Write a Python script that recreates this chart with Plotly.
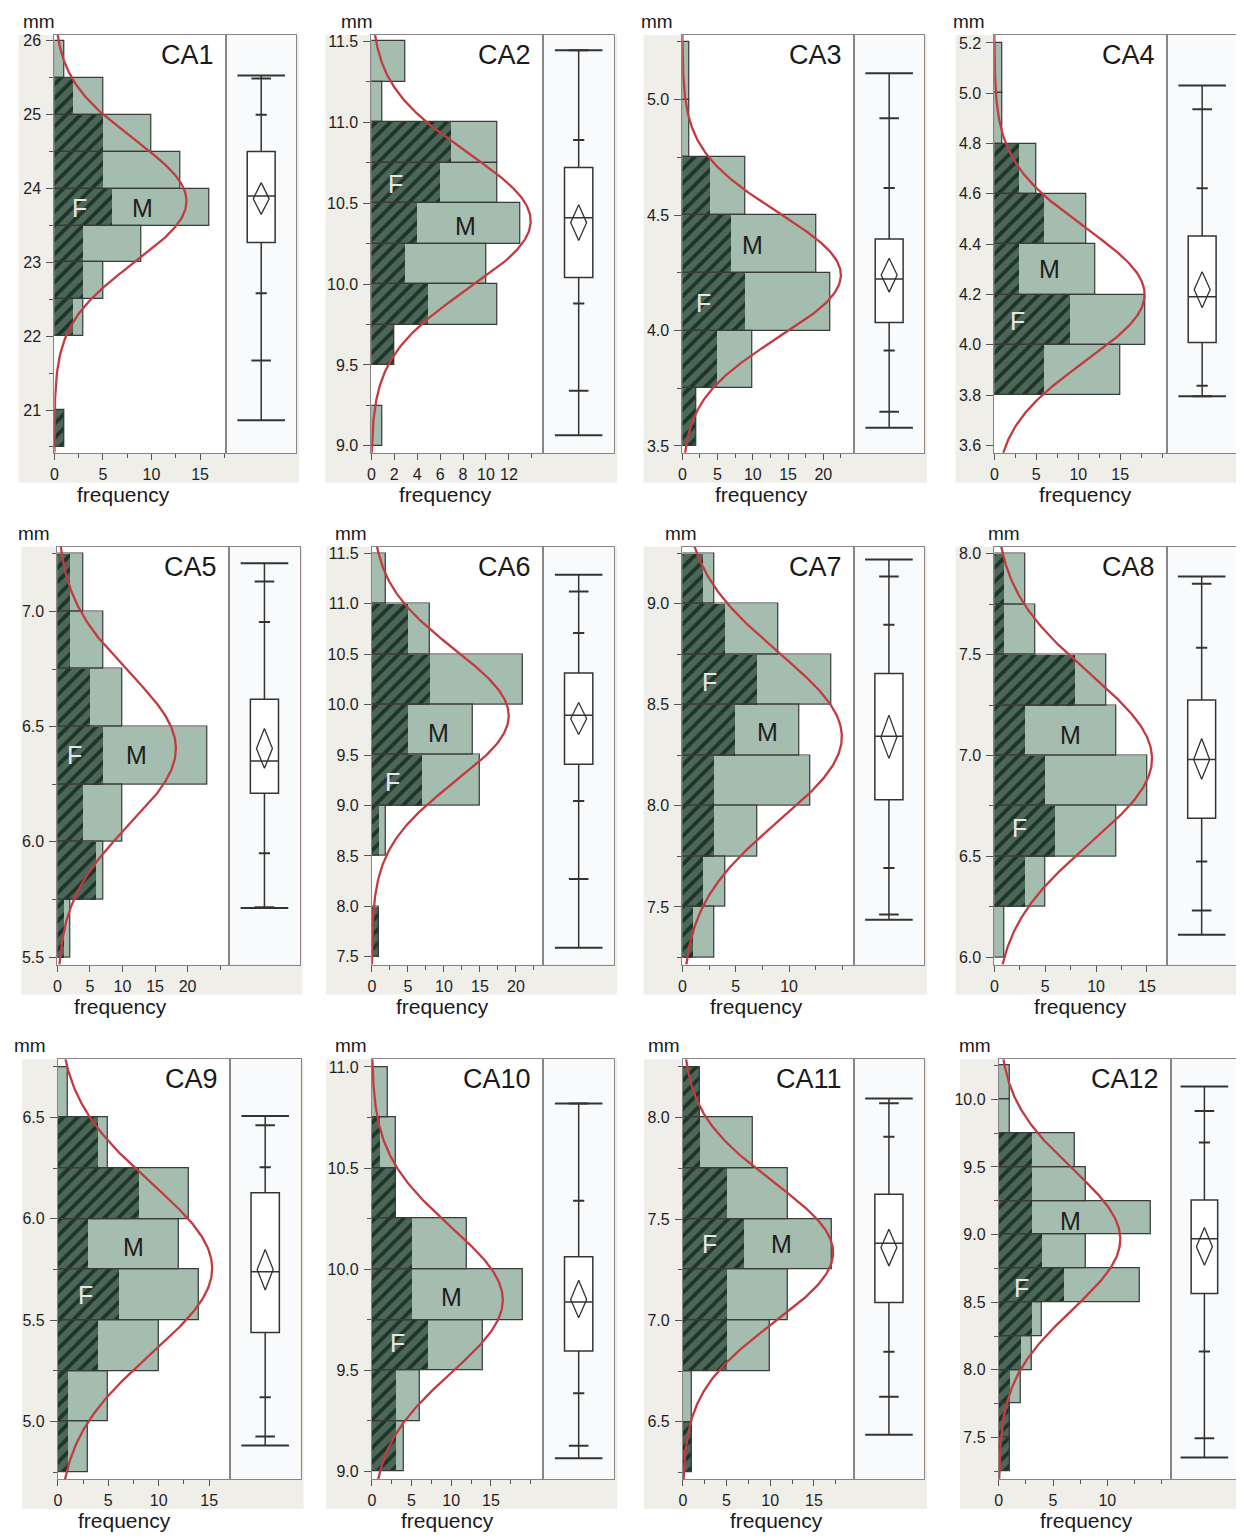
import numpy as np
import plotly.graph_objects as go

W, H = 1244, 1538

# ---------------- DATA ----------------
names = ["CA1", "CA2", "CA3", "CA4", "CA5", "CA6",
         "CA7", "CA8", "CA9", "CA10", "CA11", "CA12"]

bin_width = [0.5, 0.25, 0.25, 0.2, 0.25, 0.5, 0.25, 0.25, 0.25, 0.25, 0.25, 0.25]

bin_lower = [
    [20.5, 22.0, 22.5, 23.0, 23.5, 24.0, 24.5, 25.0, 25.5],
    [9.0, 9.5, 9.75, 10.0, 10.25, 10.5, 10.75, 11.0, 11.25],
    [3.5, 3.75, 4.0, 4.25, 4.5, 4.75, 5.0],
    [3.8, 4.0, 4.2, 4.4, 4.6, 4.8, 5.0],
    [5.5, 5.75, 6.0, 6.25, 6.5, 6.75, 7.0],
    [7.5, 8.5, 9.0, 9.5, 10.0, 10.5, 11.0],
    [7.25, 7.5, 7.75, 8.0, 8.25, 8.5, 8.75, 9.0],
    [6.0, 6.25, 6.5, 6.75, 7.0, 7.25, 7.5, 7.75],
    [4.75, 5.0, 5.25, 5.5, 5.75, 6.0, 6.25, 6.5],
    [9.0, 9.25, 9.5, 9.75, 10.0, 10.25, 10.5, 10.75],
    [6.25, 6.5, 6.75, 7.0, 7.25, 7.5, 7.75, 8.0],
    [7.25, 7.5, 7.75, 8.0, 8.25, 8.5, 8.75, 9.0, 9.25, 9.5, 9.75, 10.0],
]

count_total = [
    [1, 3, 5, 9, 16, 13, 10, 5, 1],
    [1, 2, 11, 10, 13, 11, 11, 1, 3],
    [2, 10, 21, 19, 9, 1, 1],
    [15, 18, 12, 11, 5, 1, 1],
    [2, 7, 10, 23, 10, 7, 4],
    [1, 2, 15, 14, 21, 8, 2],
    [3, 4, 7, 12, 11, 14, 9, 3],
    [1, 5, 12, 15, 12, 11, 4, 3],
    [3, 5, 10, 14, 12, 13, 5, 1],
    [4, 6, 14, 19, 12, 3, 3, 2],
    [1, 1, 10, 12, 17, 12, 8, 2],
    [1, 1, 2, 3, 4, 13, 8, 14, 8, 7, 1, 1],
]

count_female = [
    [1, 2, 3, 3, 6, 5, 5, 2, 0],
    [0, 2, 5, 3, 4, 6, 7, 0, 0],
    [2, 5, 9, 7, 4, 0, 0],
    [6, 9, 3, 6, 3, 0, 0],
    [1, 6, 4, 7, 5, 2, 2],
    [1, 1, 7, 5, 8, 5, 0],
    [1, 2, 3, 3, 5, 7, 4, 2],
    [0, 3, 6, 5, 3, 8, 1, 1],
    [1, 1, 4, 6, 3, 8, 4, 0],
    [3, 3, 7, 5, 5, 3, 1, 0],
    [1, 0, 5, 5, 7, 5, 2, 2],
    [1, 1, 1, 2, 3, 6, 4, 3, 3, 3, 0, 0],
]

# fitted normal curve (mean, sd, peak frequency)
curve_mean = [23.83, 10.39, 4.24, 4.20, 6.405, 9.89, 8.342, 6.985, 5.756, 9.848, 7.335, 8.966]
curve_sd = [0.83, 0.42, 0.27, 0.265, 0.33, 0.655, 0.415, 0.42, 0.42, 0.36, 0.345, 0.52]
curve_peak = [13.6, 13.9, 22.5, 17.9, 18.2, 19.0, 14.95, 15.5, 15.3, 16.5, 17.2, 11.2]

# quantile box plot statistics
box_min = [20.86, 9.066, 3.579, 3.795, 5.713, 7.589, 7.437, 6.112, 4.882, 9.066, 6.436, 7.352]
box_q025 = [21.67, 9.34, 3.648, 3.795, 5.716, 8.271, 7.462, 6.232, 4.926, 9.127, 6.623, 7.495]
box_q10 = [22.58, 9.88, 3.913, 3.837, 5.951, 9.045, 7.692, 6.475, 5.12, 9.387, 6.845, 8.135]
box_q1 = [23.27, 10.04, 4.035, 4.009, 6.211, 9.408, 8.03, 6.689, 5.439, 9.596, 7.088, 8.564]
box_median = [23.90, 10.41, 4.223, 4.191, 6.351, 9.895, 8.345, 6.981, 5.739, 9.838, 7.381, 8.97]
box_q3 = [24.50, 10.72, 4.396, 4.432, 6.619, 10.314, 8.655, 7.275, 6.129, 10.062, 7.622, 9.256]
box_q90 = [25.00, 10.89, 4.617, 4.622, 6.954, 10.71, 8.896, 7.535, 6.254, 10.338, 7.906, 9.68]
box_q975 = [25.49, 11.445, 4.919, 4.936, 7.13, 11.121, 9.135, 7.852, 6.462, 10.819, 8.071, 9.914]
box_max = [25.53, 11.445, 5.114, 5.031, 7.209, 11.286, 9.219, 7.888, 6.507, 10.819, 8.094, 10.094]
mean_val = [23.86, 10.38, 4.24, 4.22, 6.405, 9.86, 8.34, 6.98, 5.75, 9.85, 7.36, 8.91]
mean_lo = [23.65, 10.27, 4.166, 4.147, 6.319, 9.704, 8.235, 6.882, 5.649, 9.76, 7.269, 8.773]
mean_hi = [24.08, 10.49, 4.313, 4.29, 6.492, 10.02, 8.449, 7.085, 5.849, 9.946, 7.45, 9.052]

# axes
y_range = [[20.42, 26.08], [8.957, 11.54], [3.47, 5.28], [3.57, 5.232],
           [5.468, 7.281], [7.424, 11.566], [7.215, 9.283], [5.964, 8.036],
           [4.716, 6.787], [8.962, 11.038], [6.217, 8.288], [7.192, 10.296]]
x_max = [17.7, 15.0, 24.4, 20.6, 26.4, 23.8, 16.07, 16.95, 17.05, 21.6, 19.56, 15.9]

ytick_labels = [
    ["21", "22", "23", "24", "25", "26"],
    ["9.0", "9.5", "10.0", "10.5", "11.0", "11.5"],
    ["3.5", "4.0", "4.5", "5.0"],
    ["3.6", "3.8", "4.0", "4.2", "4.4", "4.6", "4.8", "5.0", "5.2"],
    ["5.5", "6.0", "6.5", "7.0"],
    ["7.5", "8.0", "8.5", "9.0", "9.5", "10.0", "10.5", "11.0", "11.5"],
    ["7.5", "8.0", "8.5", "9.0"],
    ["6.0", "6.5", "7.0", "7.5", "8.0"],
    ["5.0", "5.5", "6.0", "6.5"],
    ["9.0", "9.5", "10.0", "10.5", "11.0"],
    ["6.5", "7.0", "7.5", "8.0"],
    ["7.5", "8.0", "8.5", "9.0", "9.5", "10.0"],
]
xtick_labels = [
    ["0", "5", "10", "15"],
    ["0", "2", "4", "6", "8", "10", "12"],
    ["0", "5", "10", "15", "20"],
    ["0", "5", "10", "15"],
    ["0", "5", "10", "15", "20"],
    ["0", "5", "10", "15", "20"],
    ["0", "5", "10"],
    ["0", "5", "10", "15"],
    ["0", "5", "10", "15"],
    ["0", "5", "10", "15"],
    ["0", "5", "10", "15"],
    ["0", "5", "10"],
]

# ---------------- STYLE / LAYOUT ----------------
# frame pixels (page coords): left, divider, right, top, bottom
panel_px = [
    (50.5, 223, 293, 33, 452), (368.5, 541, 612, 33, 452),
    (680.5, 853, 923, 33, 452), (993.5, 1167, 1237, 33, 452),
    (53.5, 226, 296.5, 546, 965), (369, 541, 612, 546, 965),
    (680.5, 852.5, 923, 546, 965), (993.5, 1166.5, 1236.5, 546, 965),
    (54, 226.5, 297.5, 1060, 1481), (369, 541, 612, 1060, 1481),
    (681, 852.5, 923, 1060, 1481), (998, 1171, 1237.5, 1060, 1481),
]
PAGE_OFFSET = 8  # default body margin of the html page
gray_pad = [36, 46, 39, 39]
mm_dx = [-15, -14, -25, -25, -23, -21, -1, 10, -28, -21, -19, -24]
freq_frac = [0.40, 0.43, 0.46, 0.53, 0.37, 0.41, 0.43, 0.50, 0.39, 0.44, 0.55, 0.51]
x_minor_step = [2.5, 2, 2.5, 2.5, 5, 2.5, 2.5, 2.5, 2.5, 2.5, 2.5, 2.5]
y_minor_step = [0.5, 0.25, 0.25, None, 0.25, None, 0.25, 0.25, 0.25, 0.25, 0.25, 0.25]
label_F = [(2.6, 23.74), (2.1, 10.62), (3.0, 4.118), (2.7, 4.094), (2.65, 6.377), (2.9, 9.236),
           (2.5, 8.613), (2.45, 6.64), (2.7, 5.624), (3.2, 9.634), (3.0, 7.376), (2.06, 8.608)]
label_M = [(9.1, 23.74), (8.2, 10.36), (9.9, 4.37), (6.6, 4.30), (12.2, 6.377), (9.3, 9.714),
           (8.0, 8.367), (7.5, 7.10), (7.5, 5.863), (10.0, 9.864), (11.3, 7.376), (6.6, 9.10)]

FONT = "Liberation Sans, Arial, Helvetica, sans-serif"
M_COLOR = "#a5bdae"
F_COLOR = "#1d3529"
STRIPE = "#7c9787"
OUTLINE = "#3a3a3a"
RED = "#c23b40"
FRAME = "#8a8484"
INK = "#333333"
GRAY_BG = "#efeee9"

fig = go.Figure()
shapes = []
annotations = []
layout_axes = {}


def px_x(p):
    return (p - PAGE_OFFSET) / W


def px_y(p):
    return 1 - (p - PAGE_OFFSET) / H


def ax_id(n):
    s = "" if n == 1 else str(n)
    return "x" + s, "y" + s, "xaxis" + s, "yaxis" + s


for i in range(12):
    L, D, R, T, B = panel_px[i]
    hxs, hys, hxk, hyk = ax_id(2 * i + 1)
    bxs, bys, bxk, byk = ax_id(2 * i + 2)
    ydom = [px_y(B), px_y(T)]

    # backgrounds
    shapes.append(dict(type="rect", xref="paper", yref="paper", layer="below",
                       x0=px_x(L - gray_pad[i % 4]), x1=px_x(R + 3),
                       y0=px_y(B + 30), y1=px_y(T), fillcolor=GRAY_BG, line_width=0))
    shapes.append(dict(type="rect", xref="paper", yref="paper", layer="below",
                       x0=px_x(L), x1=px_x(D), y0=ydom[0], y1=ydom[1],
                       fillcolor="white", line_width=0))
    shapes.append(dict(type="rect", xref="paper", yref="paper", layer="below",
                       x0=px_x(D), x1=px_x(R), y0=ydom[0], y1=ydom[1],
                       fillcolor="#f8fafc", line_width=0))

    bw = bin_width[i]
    centers = [v + bw / 2 for v in bin_lower[i]]

    # histogram: total (M) bars
    fig.add_trace(go.Bar(orientation="h", y=centers, x=count_total[i], width=bw,
                         marker=dict(color=M_COLOR, line=dict(width=0)),
                         xaxis=hxs, yaxis=hys, showlegend=False, hoverinfo="skip"))
    # female part, hatched
    fig.add_trace(go.Bar(orientation="h", y=centers, x=count_female[i], width=bw,
                         marker=dict(color=F_COLOR, line=dict(width=0),
                                     pattern=dict(shape="/", fgcolor=STRIPE, bgcolor=F_COLOR,
                                                  size=10, solidity=0.62)),
                         xaxis=hxs, yaxis=hys, showlegend=False, hoverinfo="skip"))
    # outlines
    fig.add_trace(go.Bar(orientation="h", y=centers, x=count_total[i], width=bw,
                         marker=dict(color="rgba(0,0,0,0)", line=dict(width=1.2, color=OUTLINE)),
                         xaxis=hxs, yaxis=hys, showlegend=False, hoverinfo="skip"))

    # normal curve
    yy = np.linspace(y_range[i][0], y_range[i][1], 300)
    xx = curve_peak[i] * np.exp(-0.5 * ((yy - curve_mean[i]) / curve_sd[i]) ** 2)
    fig.add_trace(go.Scatter(x=xx, y=yy, mode="lines", line=dict(color=RED, width=2.3),
                             xaxis=hxs, yaxis=hys, showlegend=False, hoverinfo="skip"))

    # box plot
    fig.add_trace(go.Box(x=[0.5], q1=[box_q1[i]], median=[box_median[i]], q3=[box_q3[i]],
                         lowerfence=[box_q1[i]], upperfence=[box_q3[i]], width=0.4,
                         whiskerwidth=0, fillcolor="white", line=dict(color=INK, width=1.5),
                         boxpoints=False, xaxis=bxs, yaxis=bys, showlegend=False,
                         hoverinfo="skip"))
    fig.add_trace(go.Scatter(x=[0.5, 0.5, None, 0.5, 0.5],
                             y=[box_min[i], box_q1[i], None, box_q3[i], box_max[i]],
                             mode="lines", line=dict(color=INK, width=1.5),
                             xaxis=bxs, yaxis=bys, showlegend=False, hoverinfo="skip"))
    for ys, sz in (([box_min[i], box_max[i]], 34), ([box_q025[i], box_q975[i]], 14),
                   ([box_q10[i], box_q90[i]], 8)):
        fig.add_trace(go.Scatter(x=[0.5] * len(ys), y=ys, mode="markers",
                                 marker=dict(symbol="line-ew", size=sz,
                                             line=dict(color=INK, width=2)),
                                 xaxis=bxs, yaxis=bys, showlegend=False, hoverinfo="skip"))
    dw = 8.0 / (R - D)
    fig.add_trace(go.Scatter(x=[0.5, 0.5 + dw, 0.5, 0.5 - dw, 0.5],
                             y=[mean_hi[i], mean_val[i], mean_lo[i], mean_val[i], mean_hi[i]],
                             mode="lines", line=dict(color=INK, width=1.3),
                             xaxis=bxs, yaxis=bys, showlegend=False, hoverinfo="skip"))

    # axes
    xt_vals = [float(v) for v in xtick_labels[i]]
    xminor = [float(v) for v in np.arange(0, x_max[i], x_minor_step[i]) if v not in xt_vals]
    yt_vals = [float(v) for v in ytick_labels[i]]
    yminor = []
    if y_minor_step[i]:
        s = y_minor_step[i]
        start = np.ceil(y_range[i][0] / s) * s
        yminor = [round(float(v), 4) for v in np.arange(start, y_range[i][1], s)
                  if all(abs(v - t) > 1e-6 for t in yt_vals)]

    layout_axes[hxk] = dict(
        domain=[px_x(L), px_x(D)], range=[0, x_max[i]], anchor=hys,
        showline=True, linecolor=FRAME, linewidth=1, mirror=True, showgrid=False, zeroline=False,
        ticks="outside", ticklen=6, tickwidth=1, tickcolor="#555",
        tickmode="array", tickvals=xt_vals, ticktext=xtick_labels[i],
        ticklabelstandoff=1,
        minor=dict(tickmode="array", tickvals=xminor, ticks="outside", ticklen=4,
                   tickcolor="#555", showgrid=False),
        tickfont=dict(family=FONT, size=16, color="#1e1e1e"))
    layout_axes[hyk] = dict(
        domain=ydom, range=y_range[i], anchor=hxs,
        showline=True, linecolor=FRAME, linewidth=1, mirror=True, showgrid=False, zeroline=False,
        ticks="outside", ticklen=7, tickwidth=1, tickcolor="#555",
        tickmode="array", tickvals=yt_vals, ticktext=ytick_labels[i],
        ticklabelstandoff=2,
        minor=dict(tickmode="array", tickvals=yminor, ticks="outside", ticklen=4,
                   tickcolor="#555", showgrid=False),
        tickfont=dict(family=FONT, size=16, color="#1e1e1e"))
    layout_axes[bxk] = dict(
        domain=[px_x(D), px_x(R)], range=[0, 1], anchor=bys,
        showline=True, linecolor=FRAME, linewidth=1, mirror=True, showgrid=False,
        zeroline=False, showticklabels=False, ticks="")
    layout_axes[byk] = dict(
        domain=ydom, range=y_range[i], anchor=bxs,
        showline=True, linecolor=FRAME, linewidth=1, mirror=True, showgrid=False,
        zeroline=False, showticklabels=False, ticks="")

    # annotations
    annotations.append(dict(text=names[i], xref="%s domain" % hxs, yref="%s domain" % hys,
                            x=1, y=1, xanchor="right", yanchor="top", xshift=-10, yshift=-3,
                            showarrow=False, font=dict(family=FONT, size=27, color="#1a1a1a")))
    annotations.append(dict(text="mm", xref="paper", yref="paper",
                            x=px_x(L + mm_dx[i]), y=px_y(T), xanchor="center", yanchor="bottom",
                            yshift=1, showarrow=False,
                            font=dict(family=FONT, size=19, color="#1a1a1a")))
    annotations.append(dict(text="frequency", xref="paper", yref="paper",
                            x=px_x(L + freq_frac[i] * (D - L)), y=px_y(B), xanchor="center",
                            yanchor="top", yshift=-28, showarrow=False,
                            font=dict(family=FONT, size=21, color="#1a1a1a")))
    annotations.append(dict(text="F", xref=hxs, yref=hys, x=label_F[i][0], y=label_F[i][1],
                            showarrow=False, font=dict(family=FONT, size=25, color="#e6e6e6")))
    annotations.append(dict(text="M", xref=hxs, yref=hys, x=label_M[i][0], y=label_M[i][1],
                            showarrow=False, font=dict(family=FONT, size=25, color="#1e1e1e")))

fig.update_layout(
    width=W, height=H, margin=dict(l=0, r=0, t=0, b=0),
    paper_bgcolor="white", plot_bgcolor="white",
    barmode="overlay", bargap=0, showlegend=False,
    shapes=shapes, annotations=annotations,
    font=dict(family=FONT),
    **layout_axes,
)

fig.write_html("out.html")
